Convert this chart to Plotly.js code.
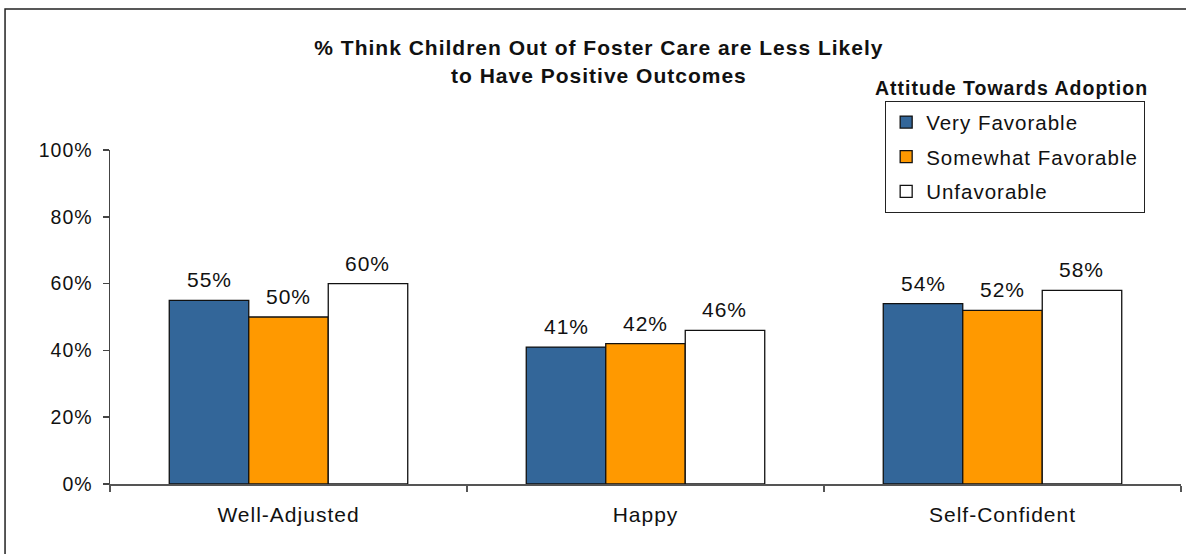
<!DOCTYPE html>
<html>
<head>
<meta charset="utf-8">
<script src="https://cdn.plot.ly/plotly-3.0.1.min.js"></script>
<style>
  html, body { margin: 0; padding: 0; background: #fff; }
  #chart { width: 1186px; height: 554px; }
  /* slightly open letter spacing for all chart text (also applied while Plotly measures text) */
  svg text { letter-spacing: 1px; }
</style>
</head>
<body>
<div id="chart"></div>
<script>
// Outcome categories and survey shares (%) by attitude towards adoption
const categories = ['Well-Adjusted', 'Happy', 'Self-Confident'];
const veryFavorable = [55, 41, 54];
const somewhatFavorable = [50, 42, 52];
const unfavorable = [60, 46, 58];

const seriesNames = ['Very Favorable', 'Somewhat Favorable', 'Unfavorable'];
const seriesValues = [veryFavorable, somewhatFavorable, unfavorable];
const seriesColors = ['#336699', '#FF9900', '#FFFFFF'];

const FONT = '"Liberation Sans", Arial, sans-serif';
const BARGAP = 0.332;
const barWidth = (1 - BARGAP) / seriesNames.length;

const traces = seriesNames.map((name, j) => ({
  type: 'bar',
  name: name,
  legendgroup: 'g' + j,
  x: categories,
  y: seriesValues[j],
  marker: { color: seriesColors[j], line: { color: '#111', width: 1.3 } },
  hoverinfo: 'skip'
}));

// Value labels above each bar, placed at the bar's offset within its group
const valueLabels = [];
seriesValues.forEach((vals, j) => {
  vals.forEach((v, i) => {
    valueLabels.push({
      xref: 'x', yref: 'y',
      x: i + (j - (seriesNames.length - 1) / 2) * barWidth,
      y: v,
      text: v + '%',
      showarrow: false,
      yanchor: 'bottom',
      yshift: 7,
      font: { family: FONT, size: 21, color: '#111' }
    });
  });
});

const layout = {
  width: 1186,
  height: 554,
  margin: { l: 110, r: 5, t: 150, b: 70 },
  paper_bgcolor: '#fff',
  plot_bgcolor: '#fff',
  font: { family: FONT, color: '#111' },
  barmode: 'group',
  bargap: BARGAP,
  bargroupgap: 0,
  title: {
    text: '<b>% Think Children Out of Foster Care are Less Likely<br>to Have Positive Outcomes</b>',
    font: { family: FONT, size: 21, color: '#111' },
    xref: 'container', x: 0.505, xanchor: 'center',
    yref: 'container', y: 0.9, yanchor: 'middle'
  },
  xaxis: {
    type: 'category',
    showline: true, linecolor: '#555', linewidth: 2,
    ticks: 'outside', tickson: 'boundaries', ticklen: 6, tickcolor: '#555', tickwidth: 1.5,
    tickfont: { family: FONT, size: 21, color: '#111' },
    ticklabelstandoff: 11,
    showgrid: false, zeroline: false,
    fixedrange: true
  },
  yaxis: {
    range: [0, 100],
    dtick: 20,
    ticksuffix: '%',
    showline: true, linecolor: '#444', linewidth: 1.5,
    ticks: 'outside', ticklen: 6, tickcolor: '#444', tickwidth: 1.5,
    tickfont: { family: FONT, size: 19.5, color: '#111' },
    ticklabelstandoff: 6,
    showgrid: false, zeroline: false,
    fixedrange: true
  },
  showlegend: true,
  legend: {
    x: 0.7235, xanchor: 'left',
    y: 1.147, yanchor: 'top',
    bgcolor: '#fff',
    bordercolor: '#222', borderwidth: 1.3,
    font: { family: FONT, size: 20.5, color: '#111' },
    traceorder: 'grouped',
    tracegroupgap: 5
  },
  annotations: [
    {
      xref: 'paper', yref: 'paper',
      x: 0.842, y: 1.186,
      xanchor: 'center', yanchor: 'middle',
      text: '<b>Attitude Towards Adoption</b>',
      showarrow: false,
      font: { family: FONT, size: 19.5, color: '#111' }
    }
  ].concat(valueLabels),
  shapes: [
    {
      // outer chart frame
      type: 'rect', xref: 'paper', yref: 'paper',
      x0: -0.098, x1: 1.2, y0: -0.6, y1: 1.422,
      line: { color: '#222', width: 1.5 },
      fillcolor: 'rgba(0,0,0,0)',
      layer: 'below'
    }
  ]
};

Plotly.newPlot('chart', traces, layout, { displayModeBar: false, staticPlot: true });
</script>
</body>
</html>
